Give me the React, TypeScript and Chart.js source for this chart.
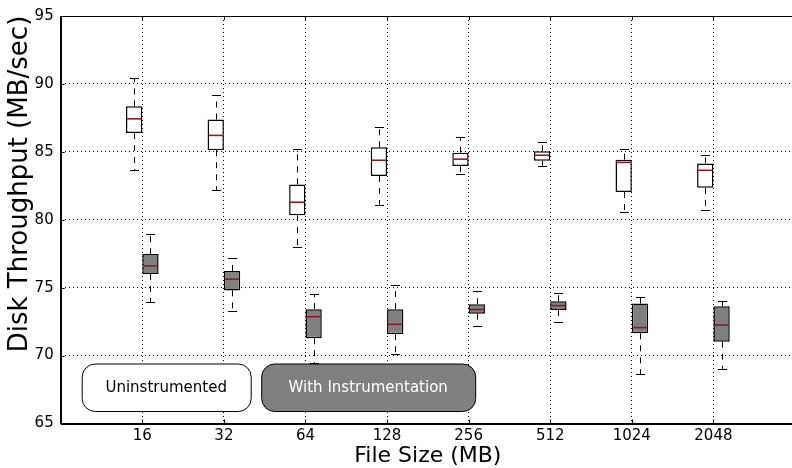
import React, { useEffect, useRef } from 'react';
import { Chart, registerables } from 'chart.js';

Chart.register(...registerables);

// Categories (x positions 1..8) and their tick labels
const fileSizes = ['16', '32', '64', '128', '256', '512', '1024', '2048'];
const positions = [1, 2, 3, 4, 5, 6, 7, 8];
const seriesNames = ['Uninstrumented', 'With Instrumentation'];
const yTicks = [65, 70, 75, 80, 85, 90, 95];

// Uninstrumented box statistics (MB/sec)
const uninstMin = [83.66, 82.2, 78.01, 81.1, 83.4, 83.98, 80.6, 80.7];
const uninstQ1 = [86.38, 85.12, 80.34, 83.22, 83.95, 84.34, 82.04, 82.35];
const uninstMed = [87.43, 86.21, 81.29, 84.38, 84.46, 84.75, 84.22, 83.64];
const uninstQ3 = [88.35, 87.38, 82.6, 85.33, 84.93, 85.05, 84.42, 84.15];
const uninstMax = [90.41, 89.15, 85.19, 86.86, 86.07, 85.75, 85.22, 84.75];

// With Instrumentation box statistics (MB/sec)
const instMin = [73.93, 73.25, 69.46, 70.11, 72.18, 72.5, 68.63, 69.02];
const instQ1 = [76.01, 74.8, 71.28, 71.57, 73.08, 73.35, 71.64, 71.02];
const instMed = [76.6, 75.63, 72.86, 72.3, 73.39, 73.68, 72.06, 72.25];
const instQ3 = [77.47, 76.23, 73.42, 73.42, 73.78, 74.0, 73.83, 73.64];
const instMax = [78.95, 77.18, 74.51, 75.17, 74.75, 74.58, 74.34, 74.0];

const FONT = '"DejaVu Sans", "Liberation Sans", sans-serif';
const MEDIAN_COLOR = '#8c1c1c';
const BOX_FILLS = ['#ffffff', '#808080'];
const LEGEND_TEXT = ['#000000', '#ffffff'];

const stats = [
  { min: uninstMin, q1: uninstQ1, med: uninstMed, q3: uninstQ3, max: uninstMax },
  { min: instMin, q1: instQ1, med: instMed, q3: instQ3, max: instMax },
];

function roundRect(ctx: CanvasRenderingContext2D, x: number, y: number, w: number, h: number, r: number) {
  ctx.beginPath();
  ctx.moveTo(x + r, y);
  ctx.lineTo(x + w - r, y);
  ctx.arcTo(x + w, y, x + w, y + r, r);
  ctx.lineTo(x + w, y + h - r);
  ctx.arcTo(x + w, y + h, x + w - r, y + h, r);
  ctx.lineTo(x + r, y + h);
  ctx.arcTo(x, y + h, x, y + h - r, r);
  ctx.lineTo(x, y + r);
  ctx.arcTo(x, y, x + r, y, r);
  ctx.closePath();
}

const boxPlugin = {
  id: 'boxExtras',
  afterDatasetsDraw(chart: any) {
    const ctx: CanvasRenderingContext2D = chart.ctx;
    const ys = chart.scales.y;
    stats.forEach((s, d) => {
      const meta = chart.getDatasetMeta(d);
      meta.data.forEach((bar: any, i: number) => {
        const { x, width } = bar.getProps(['x', 'width'], true);
        const cx = Math.round(x) + 0.5;
        const yMin = ys.getPixelForValue(s.min[i]);
        const yMax = ys.getPixelForValue(s.max[i]);
        const yQ1 = ys.getPixelForValue(s.q1[i]);
        const yQ3 = ys.getPixelForValue(s.q3[i]);
        const yMed = ys.getPixelForValue(s.med[i]);
        ctx.save();
        ctx.strokeStyle = '#000';
        ctx.lineWidth = 1;
        ctx.setLineDash([6, 6]);
        ctx.beginPath();
        ctx.moveTo(cx, yQ3);
        ctx.lineTo(cx, yMax);
        ctx.moveTo(cx, yQ1);
        ctx.lineTo(cx, yMin);
        ctx.stroke();
        ctx.setLineDash([]);
        const cw = width * 0.28;
        ctx.beginPath();
        ctx.moveTo(cx - cw, Math.round(yMax) + 0.5);
        ctx.lineTo(cx + cw, Math.round(yMax) + 0.5);
        ctx.moveTo(cx - cw, Math.round(yMin) + 0.5);
        ctx.lineTo(cx + cw, Math.round(yMin) + 0.5);
        ctx.stroke();
        ctx.strokeStyle = MEDIAN_COLOR;
        ctx.lineWidth = 1.6;
        ctx.beginPath();
        ctx.moveTo(x - width / 2 + 1, yMed);
        ctx.lineTo(x + width / 2 - 1, yMed);
        ctx.stroke();
        ctx.restore();
      });
    });
  },
  afterDraw(chart: any) {
    const ctx: CanvasRenderingContext2D = chart.ctx;
    const { left, right, top, bottom } = chart.chartArea;
    const xs = chart.scales.x;
    const ys = chart.scales.y;
    ctx.save();
    // frame
    ctx.strokeStyle = '#000';
    ctx.lineWidth = 1;
    ctx.strokeRect(Math.round(left) + 0.5, Math.round(top) + 0.5, Math.round(right - left), Math.round(bottom - top));
    // inward tick marks
    ctx.beginPath();
    yTicks.forEach((v) => {
      const py = Math.round(ys.getPixelForValue(v)) + 0.5;
      ctx.moveTo(left, py);
      ctx.lineTo(left + 4, py);
    });
    positions.forEach((p) => {
      const px = Math.round(xs.getPixelForValue(p)) + 0.5;
      ctx.moveTo(px, bottom);
      ctx.lineTo(px, bottom - 4);
      ctx.moveTo(px, top);
      ctx.lineTo(px, top + 4);
    });
    ctx.stroke();

    // legend boxes
    const legendBoxes = [
      { x: left + 21, w: 169 },
      { x: left + 200.5, w: 214 },
    ];
    const ly = bottom - 60;
    const lh = 47.5;
    legendBoxes.forEach((b, k) => {
      roundRect(ctx, b.x + 0.5, ly + 0.5, b.w, lh, 13);
      ctx.fillStyle = BOX_FILLS[k];
      ctx.fill();
      ctx.strokeStyle = '#000';
      ctx.lineWidth = 1;
      ctx.stroke();
      ctx.fillStyle = LEGEND_TEXT[k];
      ctx.font = `15px ${FONT}`;
      ctx.textAlign = 'center';
      ctx.textBaseline = 'middle';
      ctx.fillText(seriesNames[k], b.x + b.w / 2, ly + lh / 2 + 1);
    });

    // axis titles
    ctx.fillStyle = '#000';
    ctx.font = `22px ${FONT}`;
    ctx.textAlign = 'center';
    ctx.textBaseline = 'alphabetic';
    ctx.fillText('File Size (MB)', (left + right) / 2, 462);

    ctx.save();
    ctx.translate(27, 184);
    ctx.rotate(-Math.PI / 2);
    ctx.font = `26px ${FONT}`;
    ctx.textAlign = 'center';
    ctx.textBaseline = 'alphabetic';
    ctx.fillText('Disk Throughput (MB/sec)', 0, 0);
    ctx.restore();
    ctx.restore();
  },
};

export default function App() {
  const ref = useRef<HTMLCanvasElement | null>(null);

  useEffect(() => {
    const canvas = ref.current;
    if (!canvas) return;
    const chart = new Chart(canvas, {
      type: 'bar',
      data: {
        datasets: stats.map((s, d) => ({
          label: seriesNames[d],
          data: positions.map((p, i) => ({ x: p, y: [s.q1[i], s.q3[i]] })) as any,
          backgroundColor: BOX_FILLS[d],
          borderColor: '#000',
          borderWidth: 1.5,
          borderSkipped: false,
          categoryPercentage: 0.4,
          barPercentage: 1.0,
        })),
      },
      options: {
        responsive: false,
        devicePixelRatio: 1,
        animation: false,
        layout: { padding: { left: 0, right: 1, top: 13.5, bottom: 0 } },
        plugins: {
          legend: { display: false },
          tooltip: { enabled: false },
          title: { display: false },
        },
        scales: {
          x: {
            type: 'linear',
            min: 0,
            max: 9,
            offset: false,
            afterBuildTicks: (axis: any) => {
              axis.ticks = positions.map((v) => ({ value: v }));
            },
            afterFit: (axis: any) => {
              axis.height = 44.5;
            },
            ticks: {
              autoSkip: false,
              maxRotation: 0,
              padding: 4,
              color: '#000',
              font: { family: FONT, size: 15 },
              callback: (value: any) => {
                const idx = positions.indexOf(Number(value));
                return idx >= 0 ? fileSizes[idx] : '';
              },
            },
            grid: { color: '#000', lineWidth: 1, drawTicks: false, offset: false },
            border: { display: true, color: '#000', width: 1, dash: [1, 3] },
          },
          y: {
            type: 'linear',
            min: 65,
            max: 95,
            afterBuildTicks: (axis: any) => {
              axis.ticks = yTicks.map((v) => ({ value: v }));
            },
            afterFit: (axis: any) => {
              axis.width = 60.7;
            },
            ticks: {
              padding: 7,
              color: '#000',
              font: { family: FONT, size: 15 },
            },
            grid: { color: '#000', lineWidth: 1, drawTicks: false },
            border: { display: true, color: '#000', width: 1, dash: [1, 3] },
          },
        },
      },
      plugins: [boxPlugin],
    });
    return () => chart.destroy();
  }, []);

  return (
    <div
      style={{
        position: 'fixed',
        left: 0,
        top: 0,
        width: 792,
        height: 468,
        overflow: 'hidden',
        background: '#fff',
      }}
    >
      <canvas ref={ref} width={796} height={468} style={{ display: 'block', width: 796, height: 468 }} />
    </div>
  );
}
